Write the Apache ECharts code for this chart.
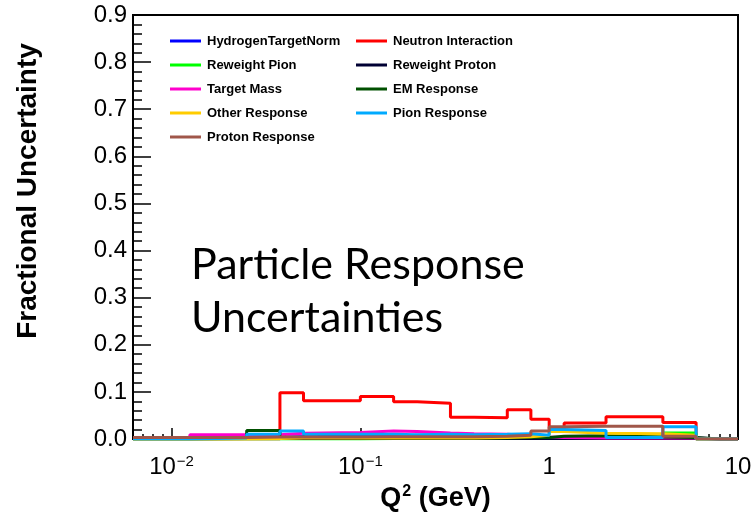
<!DOCTYPE html>
<html>
<head>
<meta charset="utf-8">
<script src="https://cdn.jsdelivr.net/npm/echarts@6/dist/echarts.min.js"></script>
<style>
  html, body { margin: 0; padding: 0; background: #fff; }
  #chart { width: 753px; height: 521px; }
</style>
</head>
<body>
<div id="chart"></div>
<script>
// Q^2 bin edges (GeV)
const binEdges = [0.00625, 0.0125, 0.025, 0.0375, 0.05, 0.1, 0.15, 0.2, 0.3, 0.4, 0.6, 0.8, 1.0, 1.2, 2.0, 4.0, 6.0, 8.0, 10.0];

// fractional uncertainty per bin
const hydrogenTargetNorm = [0.001, 0.002, 0.004, 0.005, 0.006, 0.006, 0.008, 0.008, 0.006, 0.005, 0.004, 0.003, 0.002, 0.002, 0.002, 0.002, 0, 0];
const neutronInteraction = [0, 0, 0, 0.098, 0.081, 0.090, 0.079, 0.076, 0.046, 0.045, 0.062, 0.042, 0.022, 0.034, 0.047, 0.035, 0, 0];
const reweightPion = [0, 0, 0, 0, 0, 0.001, 0.001, 0.001, 0.001, 0.001, 0.001, 0.002, 0.003, 0.002, 0.004, 0.013, 0, 0];
const reweightProton = [0.001, 0.001, 0.001, 0.001, 0.001, 0.001, 0.001, 0.001, 0.001, 0.001, 0.001, 0.001, 0.001, 0.001, 0.001, 0.001, 0, 0];
const targetMass = [0.001, 0.009, 0.009, 0.012, 0.014, 0.017, 0.016, 0.013, 0.011, 0.010, 0.007, 0.004, 0.003, 0.002, 0.002, 0.002, 0, 0];
const emResponse = [0, 0.001, 0.018, 0.003, 0.002, 0.002, 0.002, 0.002, 0.002, 0.002, 0.003, 0.003, 0.006, 0.007, 0.004, 0.003, 0, 0];
const otherResponse = [0, 0, 0.001, 0.002, 0.002, 0.002, 0.002, 0.002, 0.002, 0.003, 0.005, 0.008, 0.016, 0.012, 0.011, 0.008, 0, 0];
const pionResponse = [0, 0.002, 0.010, 0.017, 0.010, 0.010, 0.009, 0.010, 0.009, 0.010, 0.011, 0.008, 0.020, 0.018, 0.003, 0.026, 0, 0];
const protonResponse = [0.003, 0.003, 0.004, 0.004, 0.004, 0.005, 0.005, 0.005, 0.005, 0.006, 0.008, 0.017, 0.026, 0.027, 0.027, 0.006, 0, 0];

const xMajorTicks = [-2, -1, 0, 1]; // log10(Q^2)
const yTickLabels = ['0.0', '0.1', '0.2', '0.3', '0.4', '0.5', '0.6', '0.7', '0.8', '0.9'];

const seriesDefs = [
  { name: 'HydrogenTargetNorm', values: hydrogenTargetNorm, color: '#0000ff' },
  { name: 'Neutron Interaction', values: neutronInteraction, color: '#ff0000' },
  { name: 'Reweight Pion', values: reweightPion, color: '#00ff00' },
  { name: 'Reweight Proton', values: reweightProton, color: '#000033' },
  { name: 'Target Mass', values: targetMass, color: '#ff00cc' },
  { name: 'EM Response', values: emResponse, color: '#005000' },
  { name: 'Other Response', values: otherResponse, color: '#ffcc00' },
  { name: 'Pion Response', values: pionResponse, color: '#00aaff' },
  { name: 'Proton Response', values: protonResponse, color: '#a0574a' }
];

// step outline of a histogram, x in log10 space
function stepPoints(values) {
  const pts = [];
  values.forEach((v, i) => {
    pts.push([Math.log10(binEdges[i]), v]);
    pts.push([Math.log10(binEdges[i + 1]), v]);
  });
  return pts;
}

// minor ticks at 2..9 x 10^d
const xMinorTicks = [];
for (let d = -3; d <= 0; d++) {
  for (let k = 2; k <= 9; k++) {
    const v = Math.log10(k * Math.pow(10, d));
    if (v > Math.log10(binEdges[0]) && v < 1) xMinorTicks.push(v);
  }
}

const xMin = Math.log10(binEdges[0]);
const font = '"Liberation Sans", Arial, Helvetica, sans-serif';

const chart = echarts.init(document.getElementById('chart'));
const option = {
  animation: false,
  backgroundColor: '#fff',
  grid: {
    left: 133, right: 15, top: 15, bottom: 82,
    outerBoundsMode: 'none', containLabel: false,
    show: true, borderColor: '#000', borderWidth: 2, backgroundColor: '#fff'
  },
  legend: [
    {
      orient: 'vertical', left: 165, top: 29,
      itemWidth: 31, itemHeight: 3, itemGap: 10, icon: 'rect',
      textStyle: { fontFamily: font, fontWeight: 'bold', fontSize: 13, color: '#000', lineHeight: 14, padding: [0, 0, 0, 1] },
      data: ['HydrogenTargetNorm', 'Reweight Pion', 'Target Mass', 'Other Response', 'Proton Response']
    },
    {
      orient: 'vertical', left: 351, top: 29,
      itemWidth: 31, itemHeight: 3, itemGap: 10, icon: 'rect',
      textStyle: { fontFamily: font, fontWeight: 'bold', fontSize: 13, color: '#000', lineHeight: 14, padding: [0, 0, 0, 1] },
      data: ['Neutron Interaction', 'Reweight Proton', 'EM Response', 'Pion Response']
    }
  ],
  xAxis: [
    {
      type: 'value', min: xMin, max: 1, position: 'bottom',
      axisLine: { onZero: false, lineStyle: { color: '#000', width: 2 } },
      splitLine: { show: false },
      axisTick: { inside: true, length: 11, customValues: xMajorTicks, lineStyle: { color: '#000', width: 1.5 } },
      axisLabel: {
        customValues: xMajorTicks, margin: 15, showMinLabel: true, showMaxLabel: true, hideOverlap: false,
        formatter: v => {
          if (v === 0) return '{b|1}';
          if (v === 1) return '{b|10}';
          return '{b|10}{s|\u2212' + (-v) + '}';
        },
        rich: {
          b: { fontFamily: font, fontSize: 24, color: '#000', lineHeight: 26 },
          s: { fontFamily: font, fontSize: 15, color: '#000', lineHeight: 26, verticalAlign: 'top', padding: [0, 0, 8, 1] }
        }
      },
      name: '{a|Q}{s|2}{a| (GeV)}',
      nameLocation: 'middle', nameGap: 44,
      nameTextStyle: {
        rich: {
          a: { fontFamily: font, fontSize: 27, fontWeight: 'bold', color: '#000', lineHeight: 30 },
          s: { fontFamily: font, fontSize: 16, fontWeight: 'bold', color: '#000', lineHeight: 30, verticalAlign: 'top', padding: [0, 0, 10, 1] }
        }
      }
    },
    {
      type: 'value', min: xMin, max: 1, position: 'bottom', offset: 0,
      axisLine: { show: false, onZero: false },
      splitLine: { show: false },
      axisLabel: { show: false },
      axisTick: { inside: true, length: 5, customValues: xMinorTicks, lineStyle: { color: '#000', width: 1.5 } }
    }
  ],
  yAxis: {
    type: 'value', min: 0, max: 0.9, interval: 0.1,
    axisLine: { onZero: false, lineStyle: { color: '#000', width: 2 } },
    splitLine: { show: false },
    axisTick: { inside: true, length: 18, lineStyle: { color: '#000', width: 1.5 } },
    minorTick: { show: true, splitNumber: 5, length: 9, lineStyle: { color: '#000', width: 1.5 } },
    axisLabel: {
      margin: 6, fontFamily: font, fontSize: 24, color: '#000',
      formatter: v => yTickLabels[Math.round(v * 10)]
    }
  },
  series: seriesDefs.map(s => ({
    name: s.name,
    type: 'line',
    xAxisIndex: 0,
    symbol: 'none',
    data: stepPoints(s.values),
    lineStyle: { color: s.color, width: 3 },
    itemStyle: { color: s.color }
  })),
  graphic: [
    {
      type: 'text', x: 28, y: 191, rotation: Math.PI / 2,
      style: {
        text: 'Fractional Uncertainty', fontFamily: font, fontWeight: 'bold', fontSize: 28,
        fill: '#000', align: 'center', verticalAlign: 'middle'
      }
    },
    {
      type: 'text', left: 191, top: 239,
      style: {
        text: 'Particle Response\nUncertainties', fontFamily: 'Lato, "Open Sans", sans-serif', fontSize: 43,
        lineHeight: 53, fill: '#000'
      }
    }
  ]
};
chart.setOption(option);
</script>
</body>
</html>
